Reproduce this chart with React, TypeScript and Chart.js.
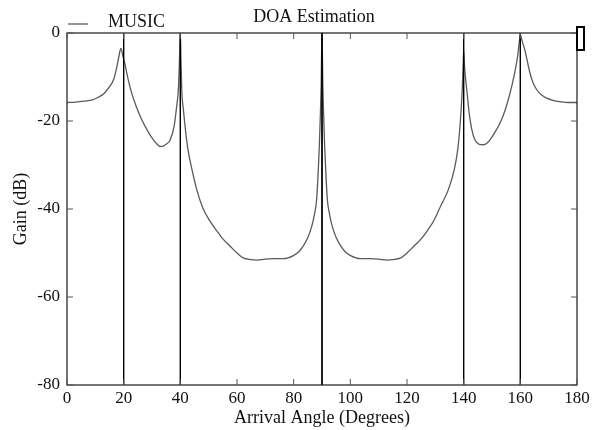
import React, { useEffect, useRef } from "react";
import { Chart, registerables } from "chart.js";

Chart.register(...registerables);

const chartTitle = "DOA Estimation";
const seriesLabel = "MUSIC";
const xAxisTitle = "Arrival Angle (Degrees)";
const yAxisTitle = "Gain (dB)";

const xTickValues = [0, 20, 40, 60, 80, 100, 120, 140, 160, 180];
const yTickValues = [0, -20, -40, -60, -80];

// true arrival angles (vertical markers)
const doaAngles = [20, 40, 90, 140, 160];

// MUSIC pseudo-spectrum
const angles = [
  0, 3, 6, 9, 11, 13, 15, 16.5, 17.5, 18.3, 19, 19.7, 20.5, 21.5, 22.8, 24.5, 26.4, 28.5, 30.5, 32, 32.8,
  34, 35, 36.4, 37.8, 38.7, 39.3, 39.7, 40, 40.2, 40.5, 41.1, 41.8, 42.7, 44.1, 45.8, 47.9,
  50.3, 52.8, 55, 57.5, 60, 62.2, 65, 67, 70, 73, 76.4, 79.9, 82, 83.4, 85, 86.4, 87.4, 88.1, 88.7, 89.1,
  89.4, 89.7, 90, 90.3, 90.6, 90.9, 91.3, 91.9, 92.6, 93.6, 95, 96.6, 98, 100.1, 103.6, 107, 110, 113,
  115, 117.8, 120, 122.5, 125, 127.2, 129.5, 131.6, 134.6, 136.7, 137.9, 138.6, 139.1, 139.5, 139.8,
  140, 140.3, 140.7, 141.1, 141.9, 142.9, 144, 145.5, 147, 148.3, 149.3, 151, 152.8, 154.5, 155.8,
  157, 158.1, 159, 159.6, 160, 160.5, 161.6, 162.5, 163.4, 164.5, 165.8, 167.5, 169.3, 171.5, 174, 177, 180,
];
const gains = [
  -15.8, -15.7, -15.5, -15.2, -14.6, -13.8, -12.2, -10.5, -8, -5.4, -3.5, -5.2, -7.2, -10.3, -13.6, -16.8,
  -19.7, -22.3, -24.3, -25.4, -25.8,
  -25.7, -25.3, -24.3, -21.2, -16.7, -12.9, -6, 0, -5, -12.9, -17.5, -22, -26.5, -31, -35.6, -39.7,
  -42.6, -44.9, -46.8, -48.4, -50, -51.1, -51.5, -51.6, -51.4, -51.3, -51.3, -50.6, -49.6, -48.4, -46.5,
  -43.9, -41, -37.9, -31, -25, -19, -12, 0, -12, -19, -25, -31, -37.9, -41, -43.9, -46.5, -48.4, -49.6,
  -50.6, -51.3, -51.3, -51.4, -51.6, -51.5, -51.1, -50, -48.4, -46.8, -44.9, -42.6, -39.7, -35.6, -31,
  -26.5, -22, -17.5, -12.9, -7.5, -3.9, -7.5, -10.5, -12.9, -18, -22, -24.3, -25.3, -25.4, -25, -24.3,
  -22.6, -20.5, -17.8, -15, -12, -8.8, -5.5, -2.2, -0.3, -1.5, -3.9, -6.5, -9.1, -11.3, -12.9, -14.1,
  -14.8, -15.3, -15.6, -15.8, -15.8,
];

const FONT = "'Liberation Serif', 'Times New Roman', serif";
const CURVE_COLOR = "#5a5a5a";

const decorPlugin = {
  id: "decor",
  afterDatasetsDraw(chart: any) {
    const { ctx, chartArea } = chart;
    const { left, right, top, bottom } = chartArea;
    const xs = chart.scales.x;
    const ys = chart.scales.y;
    ctx.save();
    // frame
    ctx.strokeStyle = "#1a1a1a";
    ctx.lineWidth = 1.2;
    ctx.strokeRect(left, top, right - left, bottom - top);
    // inward ticks
    const tl = 6;
    ctx.lineWidth = 1;
    ctx.strokeStyle = "#555";
    ctx.beginPath();
    xTickValues.forEach((v) => {
      const px = xs.getPixelForValue(v);
      ctx.moveTo(px, bottom);
      ctx.lineTo(px, bottom - tl);
      ctx.moveTo(px, top);
      ctx.lineTo(px, top + tl);
    });
    yTickValues.forEach((v) => {
      const py = ys.getPixelForValue(v);
      ctx.moveTo(left, py);
      ctx.lineTo(left + tl, py);
      ctx.moveTo(right, py);
      ctx.lineTo(right - tl, py);
    });
    ctx.stroke();
    ctx.restore();
  },
  afterDraw(chart: any) {
    const { ctx, chartArea } = chart;
    const { left, right, top, bottom } = chartArea;
    ctx.save();
    ctx.fillStyle = "#111";
    // title
    ctx.font = `18px ${FONT}`;
    ctx.textAlign = "center";
    ctx.textBaseline = "alphabetic";
    ctx.fillText(chartTitle, (left + right) / 2 - 8, top - 11);
    // legend
    ctx.strokeStyle = CURVE_COLOR;
    ctx.lineWidth = 1.3;
    ctx.beginPath();
    ctx.moveTo(left + 1, top - 9);
    ctx.lineTo(left + 21, top - 9);
    ctx.stroke();
    ctx.textAlign = "left";
    ctx.fillText(seriesLabel, left + 41, top - 6);
    // x axis title
    ctx.textAlign = "center";
    ctx.textBaseline = "middle";
    ctx.fillText(xAxisTitle, (left + right) / 2, bottom + 33);
    // y axis title
    ctx.translate(left - 46, (top + bottom) / 2);
    ctx.rotate(-Math.PI / 2);
    ctx.fillText(yAxisTitle, 0, 0);
    ctx.restore();
    // small box at top right corner
    ctx.save();
    ctx.fillStyle = "#fff";
    ctx.strokeStyle = "#000";
    ctx.lineWidth = 2;
    ctx.fillRect(right, top - 6, 7, 23);
    ctx.strokeRect(right, top - 6, 7, 23);
    ctx.restore();
  },
};

export default function App() {
  const canvasRef = useRef<HTMLCanvasElement | null>(null);

  useEffect(() => {
    document.body.style.margin = "0";
    const canvas = canvasRef.current;
    if (!canvas) return;

    const curve = angles.map((a, i) => ({ x: a, y: gains[i] }));
    const markerSets = doaAngles.map((a) => ({
      label: `doa-${a}`,
      data: [
        { x: a, y: yTickValues[0] },
        { x: a, y: yTickValues[yTickValues.length - 1] },
      ],
      borderColor: "#000",
      borderWidth: 1,
      pointRadius: 0,
      tension: 0,
    }));

    const chart = new Chart(canvas, {
      type: "line",
      data: {
        datasets: [
          ...markerSets,
          {
            label: seriesLabel,
            data: curve,
            borderColor: CURVE_COLOR,
            borderWidth: 1.3,
            pointRadius: 0,
            cubicInterpolationMode: "monotone",
          },
        ],
      },
      options: {
        animation: false,
        responsive: false,
        devicePixelRatio: 1,
        layout: { padding: { left: 0, right: 15, top: 33, bottom: 0 } },
        plugins: {
          legend: { display: false },
          title: { display: false },
          tooltip: { enabled: false },
        },
        scales: {
          x: {
            type: "linear",
            min: xTickValues[0],
            max: xTickValues[xTickValues.length - 1],
            grid: { display: false, drawTicks: false, tickLength: 0 },
            border: { display: false },
            afterBuildTicks: (s: any) => {
              s.ticks = xTickValues.map((v) => ({ value: v }));
            },
            afterFit: (s: any) => {
              s.height = 45;
              s.paddingRight = 0;
            },
            ticks: {
              color: "#111",
              padding: 3,
              maxRotation: 0,
              autoSkip: false,
              font: { family: FONT, size: 17 },
            },
          },
          y: {
            type: "linear",
            min: yTickValues[yTickValues.length - 1],
            max: yTickValues[0],
            grid: { display: false, drawTicks: false, tickLength: 0 },
            border: { display: false },
            afterBuildTicks: (s: any) => {
              s.ticks = yTickValues.map((v) => ({ value: v }));
            },
            afterFit: (s: any) => {
              s.width = 67;
            },
            ticks: {
              color: "#111",
              padding: 7,
              font: { family: FONT, size: 17 },
            },
          },
        },
      },
      plugins: [decorPlugin],
    });

    return () => chart.destroy();
  }, []);

  return (
    <div style={{ width: 592, height: 430, background: "#fff" }}>
      <canvas ref={canvasRef} width={592} height={430} style={{ display: "block" }} />
    </div>
  );
}
